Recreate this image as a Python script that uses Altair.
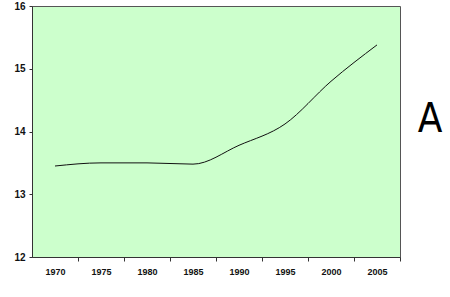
import altair as alt
import pandas as pd

years = [1970, 1975, 1980, 1985, 1990, 1995, 2000, 2005]
values = [13.45, 13.5, 13.5, 13.48, 13.78, 14.12, 14.8, 15.38]
y_ticks = [12, 13, 14, 15, 16]
label_text = ["A"]

df = pd.DataFrame({"year": years, "value": values})

W, H = 368, 251

line = alt.Chart(df).mark_line(color="#111111", strokeWidth=1, interpolate="monotone").encode(
    x=alt.X("year:Q", scale=alt.Scale(domain=[1967.5, 2007.5], nice=False, zero=False),
            axis=alt.Axis(values=years, format="d", title=None, grid=False,
                          tickOffset=23, labelOffset=-23, tickSize=4,
                          labelFont="Liberation Sans", labelFontWeight="bold", labelFontSize=9,
                          labelColor="#111111", labelPadding=6,
                          domainColor="#333333", tickColor="#333333")),
    y=alt.Y("value:Q", scale=alt.Scale(domain=[12, 16], nice=False, zero=False),
            axis=alt.Axis(values=y_ticks, title=None, grid=False, tickSize=3,
                          labelFont="Liberation Sans", labelFontWeight="bold", labelFontSize=10,
                          labelColor="#111111", labelPadding=4,
                          domainColor="#333333", tickColor="#333333")),
)

ann = alt.Chart(pd.DataFrame({"t": label_text})).mark_text(
    font="DejaVu Sans Condensed, Liberation Sans Narrow, Liberation Sans", fontSize=40,
    fontWeight=300, color="#000000", align="center", baseline="middle"
).encode(text="t:N", x=alt.value(430 - 32), y=alt.value(120 - 6))

chart = (line + ann).properties(
    width=W, height=H,
    autosize=alt.AutoSizeParams(type="none"),
    padding={"left": 32, "top": 6, "right": 50, "bottom": 40},
    background="white",
).configure_view(fill="#CCFFCC", stroke="#555555", strokeWidth=1)

chart.save("out.html", embed_options={"renderer": "svg", "actions": False})
